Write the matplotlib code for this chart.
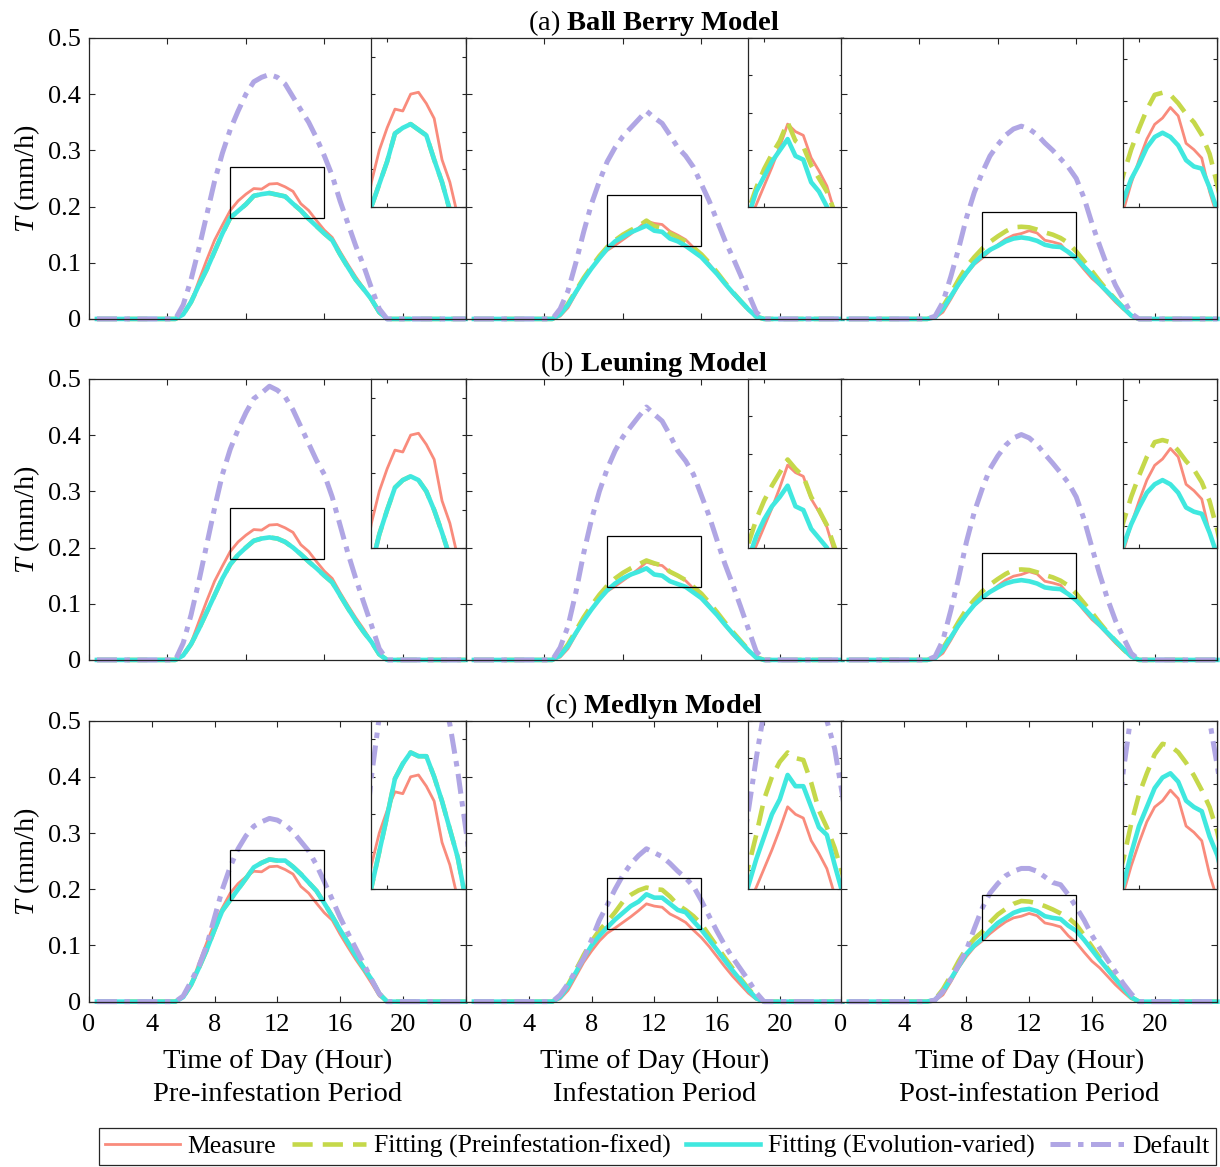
import matplotlib.pyplot as plt
import numpy as np
from matplotlib.lines import Line2D
from matplotlib.patches import Rectangle
from matplotlib.ticker import MultipleLocator

plt.rcParams['font.family'] = ['Liberation Serif', 'DejaVu Serif']
plt.rcParams['mathtext.fontset'] = 'custom'
plt.rcParams['mathtext.rm'] = 'Liberation Serif'
plt.rcParams['mathtext.it'] = 'Liberation Serif:italic'
plt.rcParams['mathtext.bf'] = 'Liberation Serif:bold'

# half-hourly transpiration (mm/h), 0.5 h ... 24 h; night hours are zero
hours = np.arange(1, 49) * 0.5
night = [0.0] * 11

measure_pre = night + [0.010, 0.030, 0.068, 0.105, 0.140, 0.167, 0.193, 0.210, 0.222, 0.232, 0.231, 0.240, 0.241,
                       0.235, 0.227, 0.205, 0.193, 0.175, 0.158, 0.145, 0.120, 0.097, 0.075, 0.055, 0.033, 0.010] + night
measure_inf = night + [0.005, 0.020, 0.045, 0.070, 0.090, 0.108, 0.122, 0.131, 0.141, 0.151, 0.162, 0.174, 0.170,
                       0.168, 0.156, 0.149, 0.141, 0.127, 0.114, 0.098, 0.080, 0.062, 0.045, 0.030, 0.015, 0.004] + night
measure_post = night + [0.002, 0.012, 0.035, 0.060, 0.080, 0.097, 0.108, 0.121, 0.132, 0.142, 0.149, 0.152, 0.157,
                        0.153, 0.140, 0.137, 0.133, 0.117, 0.105, 0.088, 0.072, 0.060, 0.045, 0.030, 0.017, 0.005] + night

# Ball Berry
bb_evo_pre = night + [0.008, 0.030, 0.060, 0.088, 0.120, 0.152, 0.180, 0.192, 0.204, 0.219, 0.222, 0.224, 0.221,
                      0.218, 0.205, 0.193, 0.178, 0.165, 0.152, 0.140, 0.115, 0.092, 0.070, 0.053, 0.035, 0.012] + night
bb_def_pre = night + [0.025, 0.070, 0.125, 0.185, 0.245, 0.295, 0.337, 0.370, 0.400, 0.422, 0.430, 0.435, 0.430,
                      0.418, 0.395, 0.372, 0.350, 0.322, 0.290, 0.255, 0.210, 0.170, 0.130, 0.095, 0.055, 0.018] + night
bb_fix_inf = night + [0.008, 0.027, 0.050, 0.073, 0.093, 0.112, 0.128, 0.140, 0.150, 0.158, 0.165, 0.175, 0.165,
                      0.162, 0.152, 0.145, 0.138, 0.127, 0.115, 0.100, 0.083, 0.065, 0.048, 0.032, 0.017, 0.004] + night
bb_evo_inf = night + [0.008, 0.025, 0.048, 0.070, 0.090, 0.108, 0.125, 0.138, 0.146, 0.154, 0.160, 0.166, 0.157,
                      0.155, 0.143, 0.138, 0.130, 0.120, 0.110, 0.095, 0.080, 0.063, 0.047, 0.032, 0.017, 0.004] + night
bb_def_inf = night + [0.018, 0.050, 0.100, 0.155, 0.205, 0.245, 0.280, 0.305, 0.325, 0.340, 0.355, 0.370, 0.358,
                      0.348, 0.327, 0.305, 0.290, 0.270, 0.240, 0.210, 0.175, 0.140, 0.110, 0.078, 0.045, 0.012] + night
bb_fix_post = night + [0.004, 0.022, 0.045, 0.070, 0.093, 0.110, 0.125, 0.137, 0.147, 0.156, 0.163, 0.164, 0.163,
                       0.159, 0.154, 0.150, 0.144, 0.135, 0.120, 0.103, 0.085, 0.067, 0.050, 0.035, 0.020, 0.006] + night
bb_evo_post = night + [0.003, 0.018, 0.040, 0.062, 0.082, 0.100, 0.113, 0.123, 0.130, 0.138, 0.143, 0.145, 0.143,
                       0.139, 0.132, 0.129, 0.128, 0.119, 0.108, 0.093, 0.078, 0.062, 0.048, 0.034, 0.020, 0.006] + night
bb_def_post = night + [0.005, 0.030, 0.075, 0.125, 0.180, 0.225, 0.260, 0.290, 0.310, 0.327, 0.338, 0.343, 0.338,
                       0.328, 0.313, 0.300, 0.285, 0.270, 0.250, 0.215, 0.170, 0.130, 0.092, 0.060, 0.035, 0.010] + night

# Leuning
leu_evo_pre = night + [0.008, 0.028, 0.055, 0.085, 0.115, 0.145, 0.170, 0.187, 0.200, 0.212, 0.216, 0.218, 0.216,
                       0.210, 0.200, 0.188, 0.175, 0.163, 0.150, 0.138, 0.115, 0.092, 0.070, 0.050, 0.032, 0.010] + night
leu_def_pre = night + [0.030, 0.080, 0.140, 0.205, 0.270, 0.330, 0.375, 0.410, 0.440, 0.465, 0.475, 0.487, 0.480,
                       0.468, 0.445, 0.415, 0.385, 0.355, 0.330, 0.290, 0.240, 0.190, 0.145, 0.103, 0.062, 0.020] + night
leu_fix_inf = night + [0.009, 0.028, 0.052, 0.076, 0.097, 0.116, 0.132, 0.145, 0.155, 0.163, 0.170, 0.177, 0.172,
                       0.168, 0.157, 0.150, 0.142, 0.130, 0.118, 0.102, 0.085, 0.067, 0.050, 0.034, 0.018, 0.005] + night
leu_evo_inf = night + [0.008, 0.025, 0.048, 0.070, 0.090, 0.108, 0.124, 0.136, 0.145, 0.152, 0.157, 0.163, 0.152,
                       0.150, 0.140, 0.135, 0.130, 0.120, 0.110, 0.095, 0.080, 0.063, 0.047, 0.032, 0.017, 0.004] + night
leu_def_inf = night + [0.022, 0.060, 0.120, 0.190, 0.250, 0.300, 0.340, 0.372, 0.397, 0.415, 0.433, 0.450, 0.437,
                       0.425, 0.400, 0.372, 0.354, 0.330, 0.293, 0.256, 0.213, 0.171, 0.134, 0.095, 0.055, 0.015] + night
leu_fix_post = night + [0.004, 0.021, 0.044, 0.068, 0.090, 0.107, 0.122, 0.134, 0.144, 0.153, 0.160, 0.161, 0.160,
                        0.156, 0.151, 0.147, 0.141, 0.132, 0.118, 0.101, 0.084, 0.066, 0.049, 0.034, 0.019, 0.006] + night
leu_evo_post = night + [0.003, 0.018, 0.040, 0.062, 0.081, 0.098, 0.111, 0.121, 0.129, 0.136, 0.140, 0.142, 0.140,
                        0.136, 0.129, 0.127, 0.126, 0.117, 0.106, 0.092, 0.077, 0.062, 0.048, 0.034, 0.020, 0.006] + night
leu_def_post = night + [0.006, 0.035, 0.088, 0.146, 0.210, 0.263, 0.304, 0.340, 0.363, 0.382, 0.395, 0.401, 0.395,
                        0.383, 0.366, 0.350, 0.333, 0.315, 0.290, 0.250, 0.200, 0.152, 0.108, 0.070, 0.040, 0.012] + night

# Medlyn
med_evo_pre = night + [0.008, 0.030, 0.060, 0.092, 0.128, 0.162, 0.181, 0.200, 0.219, 0.239, 0.247, 0.253, 0.251,
                       0.251, 0.240, 0.227, 0.212, 0.197, 0.175, 0.152, 0.128, 0.105, 0.082, 0.060, 0.040, 0.014] + night
med_def_pre = night + [0.010, 0.036, 0.063, 0.100, 0.150, 0.200, 0.240, 0.272, 0.295, 0.312, 0.320, 0.326, 0.323,
                       0.315, 0.302, 0.285, 0.268, 0.243, 0.213, 0.182, 0.150, 0.122, 0.095, 0.068, 0.040, 0.014] + night
med_fix_inf = night + [0.009, 0.030, 0.056, 0.083, 0.107, 0.127, 0.142, 0.159, 0.178, 0.190, 0.198, 0.203, 0.200,
                       0.199, 0.187, 0.172, 0.163, 0.152, 0.138, 0.118, 0.098, 0.078, 0.059, 0.041, 0.023, 0.007] + night
med_evo_inf = night + [0.008, 0.027, 0.052, 0.077, 0.100, 0.117, 0.132, 0.146, 0.158, 0.170, 0.178, 0.191, 0.185,
                       0.185, 0.174, 0.163, 0.159, 0.143, 0.128, 0.110, 0.092, 0.073, 0.055, 0.038, 0.021, 0.006] + night
med_def_inf = night + [0.012, 0.032, 0.055, 0.077, 0.110, 0.145, 0.172, 0.200, 0.225, 0.245, 0.260, 0.272, 0.265,
                       0.258, 0.246, 0.232, 0.220, 0.205, 0.180, 0.152, 0.125, 0.100, 0.078, 0.058, 0.038, 0.016] + night
med_fix_post = night + [0.004, 0.022, 0.046, 0.072, 0.095, 0.112, 0.124, 0.141, 0.155, 0.165, 0.174, 0.179, 0.178,
                        0.175, 0.170, 0.164, 0.157, 0.149, 0.137, 0.118, 0.098, 0.078, 0.059, 0.041, 0.024, 0.008] + night
med_evo_post = night + [0.003, 0.018, 0.040, 0.063, 0.085, 0.100, 0.112, 0.127, 0.140, 0.149, 0.158, 0.163, 0.165,
                        0.161, 0.152, 0.149, 0.147, 0.135, 0.126, 0.110, 0.092, 0.074, 0.057, 0.040, 0.024, 0.008] + night
med_def_post = night + [0.003, 0.018, 0.040, 0.065, 0.092, 0.130, 0.166, 0.193, 0.210, 0.224, 0.232, 0.237, 0.237,
                        0.232, 0.222, 0.212, 0.208, 0.190, 0.168, 0.145, 0.118, 0.095, 0.074, 0.053, 0.032, 0.014] + night

# in the pre-infestation period both fittings coincide
panels = [
    [(measure_pre, bb_evo_pre, bb_evo_pre, bb_def_pre),
     (measure_inf, bb_fix_inf, bb_evo_inf, bb_def_inf),
     (measure_post, bb_fix_post, bb_evo_post, bb_def_post)],
    [(measure_pre, leu_evo_pre, leu_evo_pre, leu_def_pre),
     (measure_inf, leu_fix_inf, leu_evo_inf, leu_def_inf),
     (measure_post, leu_fix_post, leu_evo_post, leu_def_post)],
    [(measure_pre, med_evo_pre, med_evo_pre, med_def_pre),
     (measure_inf, med_fix_inf, med_evo_inf, med_def_inf),
     (measure_post, med_fix_post, med_evo_post, med_def_post)],
]

row_titles = [("(a)", "Ball\\ Berry\\ Model"), ("(b)", "Leuning\\ Model"), ("(c)", "Medlyn\\ Model")]
periods = ["Pre-infestation Period", "Infestation Period", "Post-infestation Period"]
series_labels = ["Measure", "Fitting (Preinfestation-fixed)", "Fitting (Evolution-varied)", "Default"]
zoom_x = (9, 15)
zoom_y = [(0.18, 0.27), (0.13, 0.22), (0.11, 0.19)]

c_measure = "#F98B7C"
c_fix = "#C5D84A"
c_evo = "#40E8DF"
c_def = "#B0A6E4"
axis_color = "#262626"

styles = [
    dict(color=c_measure, lw=2.0),
    dict(color=c_fix, lw=3.3, dashes=(4.4, 2.2)),
    dict(color=c_evo, lw=3.3),
    dict(color=c_def, lw=3.6, dashes=(4.0, 1.5, 1.1, 1.5)),
]


def style_axes(ax, tick_len):
    for sp in ax.spines.values():
        sp.set_color(axis_color)
        sp.set_linewidth(0.9)
    ax.tick_params(direction="in", top=True, right=True, length=tick_len, width=0.8,
                   color=axis_color, labelsize=19)
    ax.tick_params(axis="x", pad=9)
    ax.tick_params(axis="y", pad=6)


fig = plt.figure(figsize=(12.2, 11.67), dpi=100)
col_left = [0.0730, 0.3820, 0.6893]
col_w = 0.3086
row_bottom = [0.7267, 0.4345, 0.1417]
row_h = 0.2408

for r in range(3):
    for c in range(3):
        ax = fig.add_axes([col_left[c], row_bottom[r], col_w, row_h])
        data = panels[r][c]
        for vals, st in zip(data, styles):
            ax.plot(hours, vals, clip_on=False, **st)
        ax.set_xlim(0, 24)
        ax.set_ylim(0, 0.5)
        if r < 2:
            ax.set_xticks([0, 5, 10, 15, 20])
            ax.set_xticklabels([])
        else:
            ax.set_xticks([0, 4, 8, 12, 16, 20])
            ax.set_xticklabels(["0", "4", "8", "12", "16", "20"])
            ax.set_xlabel("Time of Day (Hour)\n" + periods[c], fontsize=20.5, labelpad=9,
                          linespacing=1.45)
        ax.set_yticks([0, 0.1, 0.2, 0.3, 0.4, 0.5])
        if c == 0:
            ax.set_yticklabels(["0", "0.1", "0.2", "0.3", "0.4", "0.5"])
            ax.set_ylabel("$T$ (mm/h)", fontsize=20.5, labelpad=4)
        else:
            ax.set_yticklabels([])
        style_axes(ax, 4)

        y0, y1 = zoom_y[c]
        ax.add_patch(Rectangle((zoom_x[0], y0), zoom_x[1] - zoom_x[0], y1 - y0,
                               fill=False, ec="black", lw=0.9, zorder=4))

        ins = ax.inset_axes([18, 0.2, 6, 0.3], transform=ax.transData)
        for vals, st in zip(data, styles):
            ins.plot(hours, vals, **st)
        ins.set_xlim(*zoom_x)
        ins.set_ylim(y0, y1)
        ins.set_xticks([10, 15])
        ins.yaxis.set_major_locator(MultipleLocator(0.02))
        ins.tick_params(labelbottom=False, labelleft=False)
        style_axes(ins, 3)

        if c == 1:
            num, name = row_titles[r]
            ax.set_title(num + " $\\mathbf{" + name + "}$", fontsize=20.5, pad=5)

handles = [Line2D([], [], **st) for st in styles]
leg = fig.legend(handles, series_labels, loc="center", bbox_to_anchor=(0.539, 0.0176), ncol=4,
                 fontsize=18.5, frameon=True, fancybox=False, edgecolor=axis_color, framealpha=1,
                 handlelength=2.9, handletextpad=0.3, columnspacing=0.6, borderpad=0.25,
                 borderaxespad=0)
leg.get_frame().set_linewidth(0.9)

fig.savefig("out.png", dpi=100)
